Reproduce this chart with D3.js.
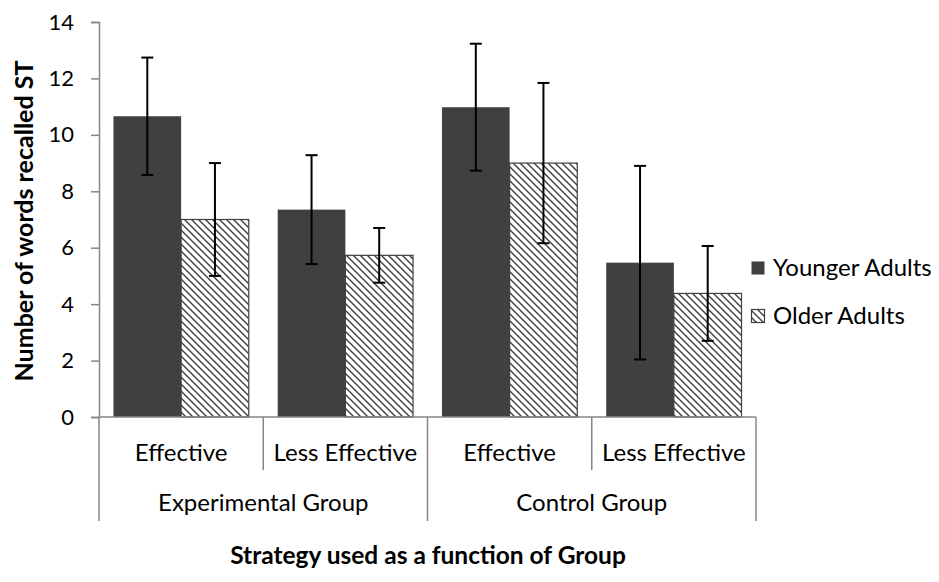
<!DOCTYPE html>
<html><head><meta charset="utf-8">
<script src="https://cdn.jsdelivr.net/npm/d3@7"></script>
<style>
html,body{margin:0;padding:0;background:#fff;}
text{font-family:Lato, "Open Sans", sans-serif;fill:#000;}
</style></head>
<body><svg id="chart" width="939" height="582"></svg>
<script>
const categories = ["Effective","Less Effective","Effective","Less Effective"];
const groups = ["Experimental Group","Control Group"];
const seriesNames = ["Younger Adults","Older Adults"];
const younger = [10.66, 7.35, 10.98, 5.47];
const youngerErr = [2.08, 1.93, 2.25, 3.43];
const older = [7.0, 5.73, 9.0, 4.38];
const olderErr = [2.0, 0.97, 2.84, 1.68];
const yTicks = [0,2,4,6,8,10,12,14];

(function(){
const svg = d3.select("#chart");
const mLeft = 99, mRight = 756, mTop = 22, mBottom = 417;
const axisCol = "#868686", dark = "#404040";

const defs = svg.append("defs");
const P = 7;
const pat = defs.append("pattern").attr("id","hatch").attr("patternUnits","userSpaceOnUse")
  .attr("width",P).attr("height",P);
pat.append("rect").attr("width",P).attr("height",P).attr("fill","#fff");
pat.append("path").attr("d",`M-2,-2 L${P+2},${P+2} M-2,${P-2} L2,${P+2} M${P-2},-2 L${P+2},2`).attr("stroke",dark).attr("stroke-width",1.4);

const x = d3.scaleBand().domain(d3.range(categories.length)).range([mLeft,mRight]).paddingInner(0).paddingOuter(0);
const xs = d3.scaleBand().domain([0,1]).range([0,x.bandwidth()]).paddingInner(0).paddingOuter(0.214);
const y = d3.scaleLinear().domain([0,14]).range([mBottom,mTop]);

const yAxis = d3.axisLeft(y).tickValues(yTicks).tickSize(8).tickPadding(17);
const ya = svg.append("g").attr("transform",`translate(${mLeft},0)`).call(yAxis);
ya.select(".domain").attr("stroke",axisCol).attr("stroke-width",1.5);
ya.selectAll(".tick line").attr("stroke",axisCol).attr("stroke-width",1.5);
ya.selectAll(".tick text").style("font-size","22px").style("font-family","Lato, sans-serif").attr("fill","#000");

const data = [younger, older];
const errs = [youngerErr, olderErr];
data.forEach((vals,s)=>{
  svg.append("g").selectAll("rect").data(vals).join("rect")
    .attr("x",(d,i)=>x(i)+xs(s))
    .attr("y",d=>y(d))
    .attr("width",xs.bandwidth())
    .attr("height",d=>y(0)-y(d))
    .attr("fill", s===0 ? dark : "url(#hatch)")
    .attr("stroke", s===0 ? "none" : dark)
    .attr("stroke-width",1.2);
});

data.forEach((vals,s)=>{
  const g = svg.append("g").attr("stroke","#000").attr("stroke-width",2);
  vals.forEach((v,i)=>{
    const cx = x(i)+xs(s)+xs.bandwidth()/2;
    const e = errs[s][i];
    g.append("line").attr("x1",cx).attr("x2",cx).attr("y1",y(v+e)).attr("y2",y(v-e));
    g.append("line").attr("x1",cx-6).attr("x2",cx+6).attr("y1",y(v+e)).attr("y2",y(v+e));
    g.append("line").attr("x1",cx-6).attr("x2",cx+6).attr("y1",y(v-e)).attr("y2",y(v-e));
  });
});

const xa = svg.append("g").attr("stroke",axisCol).attr("stroke-width",1.5);
xa.append("line").attr("x1",mLeft).attr("x2",mRight).attr("y1",mBottom).attr("y2",mBottom);
const bounds = d3.range(categories.length+1).map(i => i<categories.length ? x(i) : x(categories.length-1)+x.bandwidth());
bounds.forEach((bx,i)=>{
  const long = (i%2===0);
  xa.append("line").attr("x1",bx).attr("x2",bx).attr("y1",mBottom).attr("y2",long?521:470);
});
svg.append("g").selectAll("text").data(categories).join("text")
  .attr("x",(d,i)=>x(i)+x.bandwidth()/2).attr("y",453).attr("dy","0.35em")
  .attr("text-anchor","middle").style("font-size","24px").text(d=>d);
svg.append("g").selectAll("text").data(groups).join("text")
  .attr("x",(d,i)=>x(i*2)+x.bandwidth()).attr("y",503).attr("dy","0.35em")
  .attr("text-anchor","middle").style("font-size","24px").text(d=>d);

svg.append("text").attr("x",428).attr("y",564).attr("text-anchor","middle")
  .style("font-size","24.5px").style("font-weight","bold").text("Strategy used as a function of Group");
svg.append("text").attr("transform","translate(33,221) rotate(-90)").attr("text-anchor","middle")
  .style("font-size","25px").style("font-weight","bold").text("Number of words recalled ST");

const lg = svg.append("g");
seriesNames.forEach((n,s)=>{
  const ly = 268 + s*48;
  lg.append("rect").attr("x",751.5).attr("y",ly-6.5).attr("width",13).attr("height",13)
    .attr("fill", s===0?dark:"url(#hatch)").attr("stroke", s===0?"none":dark).attr("stroke-width",1.2);
  lg.append("text").attr("x",773).attr("y",ly).attr("dy","0.35em").style("font-size","24px").text(n);
});
})();
</script></body></html>
